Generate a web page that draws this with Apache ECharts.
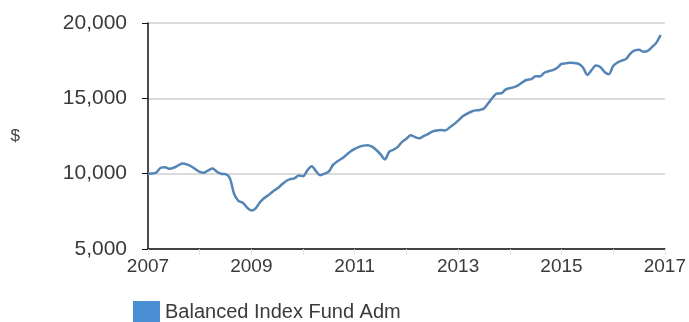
<!DOCTYPE html>
<html>
<head>
<meta charset="utf-8">
<script src="https://cdn.jsdelivr.net/npm/echarts@6/dist/echarts.min.js"></script>
<style>
  html, body { margin: 0; padding: 0; background: #fff; }
</style>
</head>
<body>
<div id="growth" style="width: 689px; height: 322px"></div>
<script>
// month labels, Jan 2007 .. Jan 2017
var months = [];
for (var y = 2007; y <= 2017; y++) {
  for (var m = 1; m <= 12; m++) {
    if (y === 2017 && m > 1) break;
    months.push(y + "-" + (m < 10 ? "0" + m : m));
  }
}

var seriesName = "Balanced Index Fund Adm";

// growth of $10,000
var fundValues = [
  10000, 10010, 10100, 10400, 10420, 10320, 10400, 10550, 10680, 10620, 10490, 10300,
  10120, 10060, 10220, 10340, 10130, 9990, 9970, 9700, 8650, 8200, 8070, 7750,
  7550, 7700, 8100, 8380, 8580, 8820, 9010, 9260, 9500, 9640, 9690, 9880,
  9830, 10220, 10500, 10170, 9900, 10000, 10150, 10600, 10820, 11000, 11230, 11470,
  11650, 11780, 11860, 11880, 11790, 11570, 11280, 10950, 11450, 11590, 11780, 12110,
  12320, 12550, 12430, 12350, 12490, 12630, 12790, 12860, 12890, 12870, 13060, 13270,
  13520, 13790, 13970, 14110, 14200, 14230, 14330, 14670, 15040, 15320, 15330, 15580,
  15680, 15740, 15880, 16080, 16230, 16280, 16470, 16450, 16700, 16800, 16870, 17030,
  17280, 17320, 17370, 17340, 17290, 17050, 16550, 16880, 17180, 17080, 16750, 16600,
  17150, 17380, 17500, 17620, 17970, 18180, 18220, 18100, 18150, 18400, 18680, 19200
];

var yTicks = [5000, 10000, 15000, 20000];

var myChart = echarts.init(document.getElementById("growth"));

var option = {
  animation: false,
  textStyle: { fontFamily: "Liberation Sans, Arial, sans-serif" },
  grid: { left: 148, right: 23, top: 23, bottom: 73 },
  legend: {
    left: 128,
    top: 296,
    icon: "rect",
    itemWidth: 27,
    itemHeight: 22,
    itemGap: 6,
    textStyle: { fontSize: 20, color: "#3a3a3a" },
    data: [{ name: seriesName, itemStyle: { color: "#4a8ed6" } }]
  },
  xAxis: {
    type: "category",
    data: months,
    boundaryGap: false,
    axisLine: { lineStyle: { color: "#111", width: 1.5 } },
    axisTick: {
      alignWithLabel: true,
      interval: function (i) { return i % 12 === 0; },
      length: 6,
      lineStyle: { color: "#e2e2e2" }
    },
    axisLabel: {
      interval: function (i) { return i % 24 === 0; },
      formatter: function (v) { return v.slice(0, 4); },
      fontSize: 19,
      color: "#3a3a3a",
      margin: 8
    },
    splitLine: { show: false }
  },
  yAxis: {
    type: "value",
    min: yTicks[0],
    max: yTicks[yTicks.length - 1],
    interval: 5000,
    name: "$",
    nameLocation: "middle",
    nameRotate: 0,
    nameGap: 128,
    nameTextStyle: { fontSize: 17, color: "#444" },
    axisLine: { show: true, lineStyle: { color: "#111", width: 1.5 } },
    axisTick: { show: true, length: 6, lineStyle: { color: "#111" } },
    axisLabel: {
      fontSize: 21,
      color: "#3a3a3a",
      margin: 21,
      formatter: function (v) { return v.toLocaleString("en-US"); }
    },
    splitLine: { lineStyle: { color: "#cfcfcf", width: 1.5 } }
  },
  series: [
    {
      name: seriesName,
      type: "line",
      data: fundValues,
      smooth: 0.3,
      symbol: "none",
      lineStyle: { color: "#5584b6", width: 2.5 },
      itemStyle: { color: "#4a8ed6" }
    }
  ]
};

myChart.setOption(option);
</script>
</body>
</html>
